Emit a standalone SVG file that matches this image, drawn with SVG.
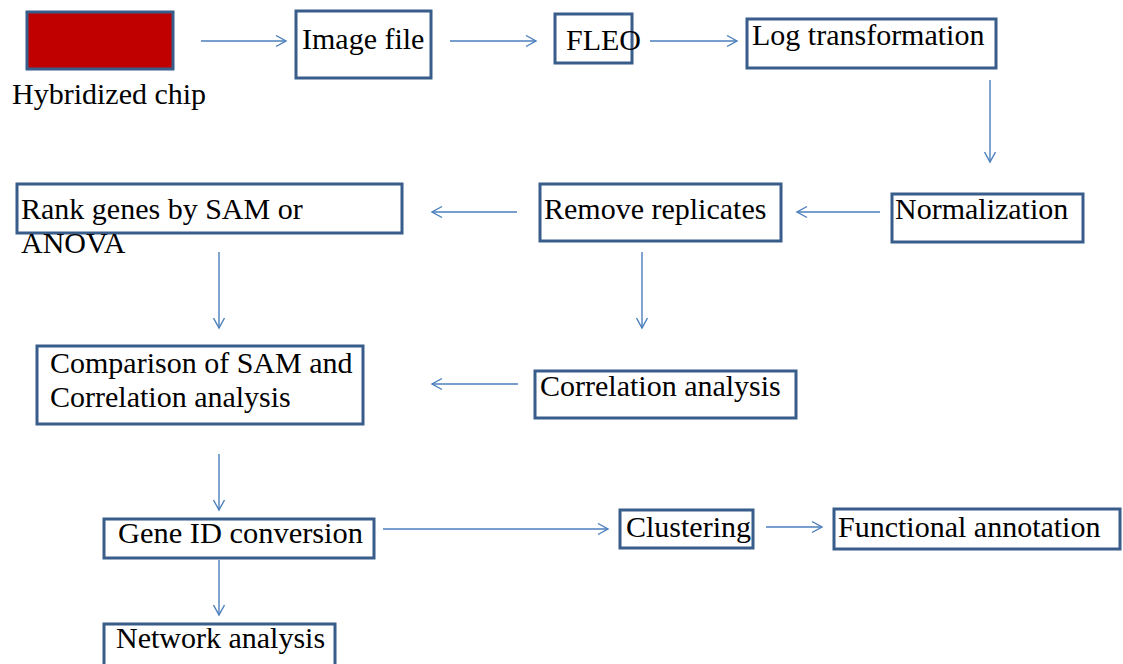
<svg xmlns="http://www.w3.org/2000/svg" width="1123" height="664" viewBox="0 0 1123 664">
  <style>
    .box { fill: #ffffff; stroke: #385D8A; stroke-width: 3; }
    .lbl { font-family: "Liberation Serif", "Times New Roman", serif; font-size: 30px; fill: #000000; }
    .conn { stroke: #4A7EBB; stroke-width: 1.4; fill: none; marker-end: url(#arr); }
  </style>
  <defs>
    <marker id="arr" markerWidth="14" markerHeight="14" refX="11" refY="7" orient="auto" markerUnits="userSpaceOnUse">
      <path d="M1,1.5 L11,7 L1,12.5" fill="none" stroke="#4A7EBB" stroke-width="1.4"/>
    </marker>
  </defs>
  <rect width="1123" height="664" fill="#ffffff"/>

  <g id="connectors">
    <line class="conn" x1="201" y1="41" x2="286" y2="41"/>
    <line class="conn" x1="450" y1="41" x2="536" y2="41"/>
    <line class="conn" x1="650" y1="41" x2="737" y2="41"/>
    <line class="conn" x1="990" y1="80" x2="990" y2="162"/>
    <line class="conn" x1="880" y1="212" x2="797" y2="212"/>
    <line class="conn" x1="517" y1="212" x2="432" y2="212"/>
    <line class="conn" x1="219" y1="252" x2="219" y2="328"/>
    <line class="conn" x1="642" y1="252" x2="642" y2="328"/>
    <line class="conn" x1="518" y1="384" x2="432" y2="384"/>
    <line class="conn" x1="219" y1="454" x2="219" y2="510"/>
    <line class="conn" x1="383" y1="529" x2="608" y2="529"/>
    <line class="conn" x1="766" y1="527" x2="822" y2="527"/>
    <line class="conn" x1="219" y1="560" x2="219" y2="615"/>
  </g>

  <g id="chip">
    <rect x="27" y="12" width="146" height="57" fill="#C00000" stroke="#385D8A" stroke-width="3"/>
    <text class="lbl" x="12" y="104">Hybridized chip</text>
  </g>
  <g id="image-file">
    <rect class="box" x="296" y="11" width="135" height="67"/>
    <text class="lbl" x="302" y="49">Image file</text>
  </g>
  <g id="fleo">
    <rect class="box" x="555" y="14" width="77" height="49"/>
    <text class="lbl" x="566" y="50">FLEO</text>
  </g>
  <g id="log-transformation">
    <rect class="box" x="747" y="19" width="249" height="49"/>
    <text class="lbl" x="752" y="45">Log transformation</text>
  </g>
  <g id="normalization">
    <rect class="box" x="892" y="194" width="191" height="48"/>
    <text class="lbl" x="895" y="219">Normalization</text>
  </g>
  <g id="remove-replicates">
    <rect class="box" x="540" y="184" width="241" height="57"/>
    <text class="lbl" x="544" y="219">Remove replicates</text>
  </g>
  <g id="rank-genes">
    <rect class="box" x="17" y="184" width="385" height="49"/>
    <text class="lbl" x="21" y="219">Rank genes by SAM or</text>
    <text class="lbl" x="21" y="253">ANOVA</text>
  </g>
  <g id="comparison">
    <rect class="box" x="37" y="346" width="326" height="78"/>
    <text class="lbl" x="50" y="373">Comparison of SAM and</text>
    <text class="lbl" x="50" y="407">Correlation analysis</text>
  </g>
  <g id="correlation-analysis">
    <rect class="box" x="535" y="371" width="261" height="47"/>
    <text class="lbl" x="540" y="396">Correlation analysis</text>
  </g>
  <g id="gene-id-conversion">
    <rect class="box" x="104" y="519" width="270" height="39"/>
    <text class="lbl" x="118" y="543" textLength="245" lengthAdjust="spacingAndGlyphs">Gene ID conversion</text>
  </g>
  <g id="clustering">
    <rect class="box" x="620" y="510" width="133" height="38"/>
    <text class="lbl" x="626" y="537">Clustering</text>
  </g>
  <g id="functional-annotation">
    <rect class="box" x="834" y="509" width="286" height="40"/>
    <text class="lbl" x="838" y="537">Functional annotation</text>
  </g>
  <g id="network-analysis">
    <rect class="box" x="104" y="624" width="231" height="45"/>
    <text class="lbl" x="116" y="648">Network analysis</text>
  </g>
</svg>
